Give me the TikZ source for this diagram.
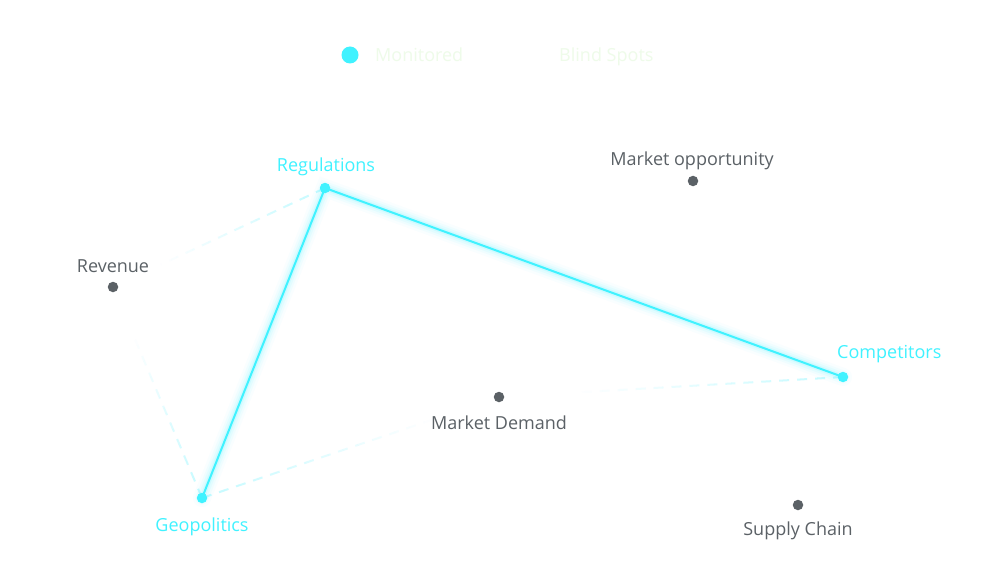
\documentclass[tikz,border=0pt]{standalone}
\usepackage{fontspec}
\setmainfont{Open Sans}
\usetikzlibrary{calc}
\definecolor{mon}{HTML}{40F2FF}
\definecolor{blind}{HTML}{5B6166}
\definecolor{legtext}{HTML}{EEFBE9}
\tikzset{
  mondot/.style={circle, fill=mon, inner sep=0pt, minimum size=10.5pt},
  blinddot/.style={circle, fill=blind, inner sep=0pt, minimum size=10.5pt},
  monlabel/.style={text=mon, font=\fontsize{18}{21}\selectfont, inner sep=0pt},
  blindlabel/.style={text=blind, font=\fontsize{18}{21}\selectfont, inner sep=0pt},
  legendlabel/.style={text=legtext, font=\fontsize{18}{21}\selectfont, inner sep=0pt, anchor=base west},
  monline/.style={draw=mon, line width=2pt},
  glowline/.style={draw=mon, line cap=round}
}
\newcommand{\fadeddash}[3]{%
  \foreach \i in {0,...,39}{%
    \pgfmathsetmacro{\ta}{\i/40}%
    \pgfmathsetmacro{\tb}{(\i+1)/40}%
    \pgfmathsetmacro{\op}{max(0,0.3*(1-1.3*\ta))}%
    \pgfmathsetmacro{\ph}{mod(\i*#3/40,18)}%
    \draw[draw=mon, line width=2pt, opacity=\op, dash pattern=on 10pt off 8pt, dash phase=\ph pt]
      ($(#1)!\ta!(#2)$) -- ($(#1)!\tb!(#2)$);
  }%
}
\begin{document}
\begin{tikzpicture}[x=1pt,y=-1pt]
\useasboundingbox[fill=white] (0,0) rectangle (1000,564);

% centres
\coordinate (reg) at (325,188);
\coordinate (rev) at (113,287);
\coordinate (mop) at (693,181);
\coordinate (comp) at (843,377);
\coordinate (md) at (499,397);
\coordinate (geo) at (202,498);
\coordinate (sc) at (798,505);

% faded dashed polygon (blind-spot outline)
\fadeddash{reg}{rev}{234}
\fadeddash{geo}{rev}{229}
\fadeddash{geo}{md}{314}
\fadeddash{comp}{md}{345}

% glow of monitored lines
\foreach \w/\o in {18/0.03, 13/0.05, 9/0.07, 5/0.12}{
  \draw[glowline, line width=\w pt, opacity=\o] (geo) -- (reg) -- (comp);
}
\draw[monline] (geo) -- (reg) -- (comp);

% dots
\node[mondot] (regd) at (reg) {};
\node[mondot] (compd) at (comp) {};
\node[mondot] (geod) at (geo) {};
\node[blinddot] (revd) at (rev) {};
\node[blinddot] (mopd) at (mop) {};
\node[blinddot] (mdd) at (md) {};
\node[blinddot] (scd) at (sc) {};

% labels
\node[monlabel] (regl) at (326,166.5) {Regulations};
\node[monlabel, anchor=west] (compl) at (837,354.5) {Competitors};
\node[monlabel] (geol) at (202,526.5) {Geopolitics};
\node[blindlabel] (revl) at (113,266.5) {Revenue};
\node[blindlabel] (mopl) at (692,160.5) {Market opportunity};
\node[blindlabel] (mdl) at (499,422.5) {Market Demand};
\node[blindlabel] (scl) at (798,530.5) {Supply Chain};

% legend
\node[mondot, minimum size=17pt] (legmon) at (350,55) {};
\node[legendlabel] (legmonl) at (375,61.5) {Monitored};
\node[legendlabel] (legbll) at (559,61.5) {Blind Spots};
\end{tikzpicture}
\end{document}
